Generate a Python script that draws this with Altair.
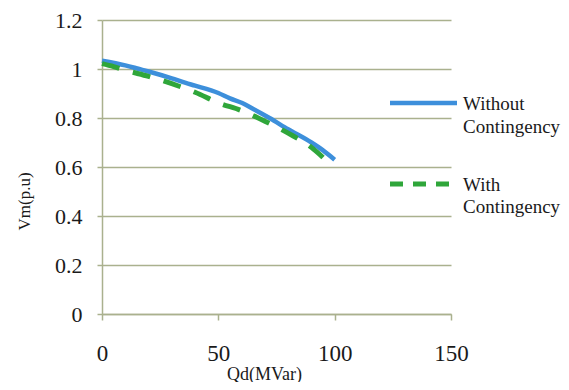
import altair as alt
import pandas as pd

# Data
q_without = [0, 10, 16, 20, 30, 36, 40, 50, 55, 60, 65, 72, 80, 90, 95, 100]
v_without = [1.034, 1.015, 1.0, 0.99, 0.962, 0.943, 0.932, 0.902, 0.88, 0.862, 0.837, 0.80, 0.754, 0.70, 0.668, 0.63]

q_with = [0, 5, 10, 20, 30, 40, 50, 60, 70, 80, 90, 96]
v_with = [1.022, 1.01, 0.995, 0.97, 0.94, 0.905, 0.862, 0.83, 0.787, 0.738, 0.68, 0.63]

series_names = ["Without Contingency", "With Contingency"]
x_ticks = [0, 50, 100, 150]
y_ticks = [0, 0.2, 0.4, 0.6, 0.8, 1.0, 1.2]

BLUE = "#3d8fdb"
GREEN = "#2fa63a"
GRID = "#aab18e"
FONT = "Liberation Serif"
TXT = "#1a1a1a"

df_without = pd.DataFrame({"Qd": q_without, "Vm": v_without, "series": series_names[0]})
df_with = pd.DataFrame({"Qd": q_with, "Vm": v_with, "series": series_names[1]})

x_enc = alt.X("Qd:Q", scale=alt.Scale(domain=[0, 150], nice=False),
              axis=alt.Axis(values=x_ticks, title="Qd(MVar)", grid=False,
                            labelFontSize=23, labelFont=FONT, labelColor=TXT,
                            labelPadding=22, tickSize=6, tickColor=GRID, tickWidth=1.5,
                            domainColor=GRID, domainWidth=1.5,
                            titleFont=FONT, titleFontSize=18, titleFontWeight="normal",
                            titleColor=TXT, titleX=162, titleY=60,
                            titleBaseline="middle", titleAnchor="start", titleAlign="center",
                            labelFlush=False))
y_enc = alt.Y("Vm:Q", scale=alt.Scale(domain=[0, 1.2], nice=False),
              axis=alt.Axis(values=y_ticks, title="Vm(p.u)", grid=True,
                            gridColor=GRID, gridWidth=1.5,
                            labelExpr="datum.value == 0 ? '0' : datum.value == 1 ? '1' : format(datum.value, '.1f')",
                            labelFontSize=22, labelFont=FONT, labelColor=TXT,
                            labelPadding=15, tickSize=5, tickColor=GRID, tickWidth=1.5,
                            domainColor=GRID, domainWidth=1.5,
                            titleFont=FONT, titleFontSize=17, titleFontWeight="normal",
                            titleColor=TXT, titleX=-78, titleY=181,
                            titleBaseline="middle", titleAlign="center", titleAngle=270,
                            labelFlush=False))

line_without = alt.Chart(df_without).mark_line(color=BLUE, strokeWidth=4.5, interpolate="monotone").encode(
    x=x_enc, y=y_enc)
line_with = alt.Chart(df_with).mark_line(color=GREEN, strokeWidth=5, strokeDash=[18, 14],
                                         interpolate="monotone").encode(x="Qd:Q", y="Vm:Q")

# Manual legend
leg_df = pd.DataFrame({"series": series_names})
leg_blue = alt.Chart(leg_df.iloc[[0]]).mark_rule(color=BLUE, strokeWidth=4.5).encode(
    x=alt.value(288), x2=alt.value(355), y=alt.value(83))
leg_green = alt.Chart(leg_df.iloc[[1]]).mark_rule(color=GREEN, strokeWidth=5, strokeDash=[13, 10]).encode(
    x=alt.value(288), x2=alt.value(350), y=alt.value(164))

def leg_text(line, y):
    return alt.Chart(leg_df.iloc[[0]]).mark_text(
        text=line, align="left", baseline="middle", font=FONT, fontSize=19, color=TXT
    ).encode(x=alt.value(361), y=alt.value(y))

w1, w2 = series_names[0].split(" ")
g1, g2 = series_names[1].split(" ")
texts = [leg_text(w1, 84), leg_text(w2, 107), leg_text(g1, 165), leg_text(g2, 187)]

chart = alt.layer(line_without, line_with, leg_blue, leg_green, *texts).properties(
    width=349, height=294,
    autosize=alt.AutoSizeParams(type="none"),
    padding={"left": 94, "top": 12, "right": 110, "bottom": 68},
    background="white",
).configure_view(stroke=None)

chart.save("out.html", embed_options={"renderer": "svg", "actions": False})
